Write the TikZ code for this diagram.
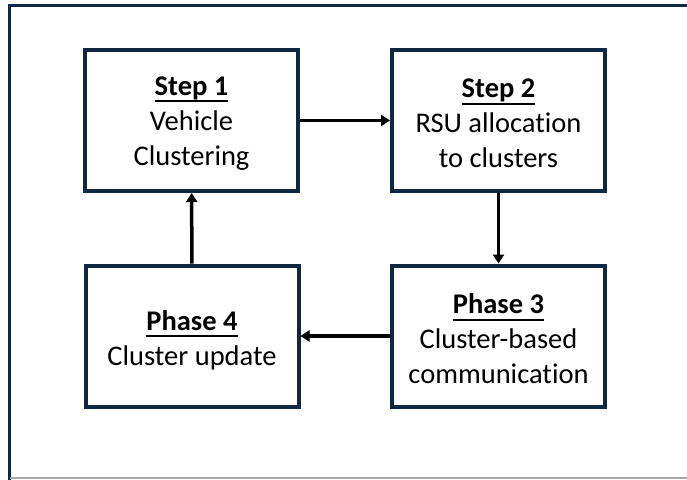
\documentclass[tikz,border=0pt]{standalone}
\usepackage{fontspec}
\setmainfont{Carlito}[RawFeature=-liga]
\usetikzlibrary{arrows.meta}
\definecolor{navy}{HTML}{0E2841}
\newcommand\myul[1]{\setbox0\hbox{#1}\rlap{\rule[-7pt]{\wd0}{1.9pt}}\box0}
\begin{document}
\begin{tikzpicture}[x=1pt,y=-1pt,
 box/.style={draw=navy, line width=4pt, minimum width=213pt, minimum height=141pt, align=center, font=\fontsize{28.5}{35}\selectfont, inner sep=0pt},
 arr/.style={line width=3.5pt, -{Triangle[length=9pt,width=11pt]}}]
\useasboundingbox (0,0) rectangle (687,479);
\begin{scope}
\clip (0,0) rectangle (687,479);
\draw[navy, line width=3pt] (9.5,5.5) rectangle (700,490);
\end{scope}
\draw[gray!70, line width=1.2pt] (9.5,478) -- (687,478);
\node[box] (s1) at (191.5,120.5) {};
\node[box] (s2) at (498.5,120.5) {};
\node[box] (p3) at (498.5,336) {};
\node[box] (p4) at (192,336) {};
\node[align=center, font=\fontsize{28.5}{35}\selectfont, inner sep=0pt] (t1) at ([yshift=-3pt]s1.center) {\myul{\textbf{Step 1}}\\Vehicle\\Clustering};
\node[align=center, font=\fontsize{28.5}{35}\selectfont, inner sep=0pt] (t2) at ([yshift=-3pt]s2.center) {\myul{\textbf{Step 2}}\\RSU allocation\\to clusters};
\node[align=center, font=\fontsize{28.5}{35}\selectfont, inner sep=0pt] (t3) at ([yshift=-3pt]p3.center) {\myul{\textbf{Phase 3}}\\Cluster-based\\communication};
\node[align=center, font=\fontsize{28.5}{35}\selectfont, inner sep=0pt] (t4) at ([yshift=-4pt]p4.center) {\myul{\textbf{Phase 4}}\\Cluster update};
\draw[arr] (s1) -- (s2);
\draw[arr] (s2) -- (p3);
\draw[arr] (p3) -- (p4);
\draw[arr] (p4) -- (s1);
\end{tikzpicture}
\end{document}
